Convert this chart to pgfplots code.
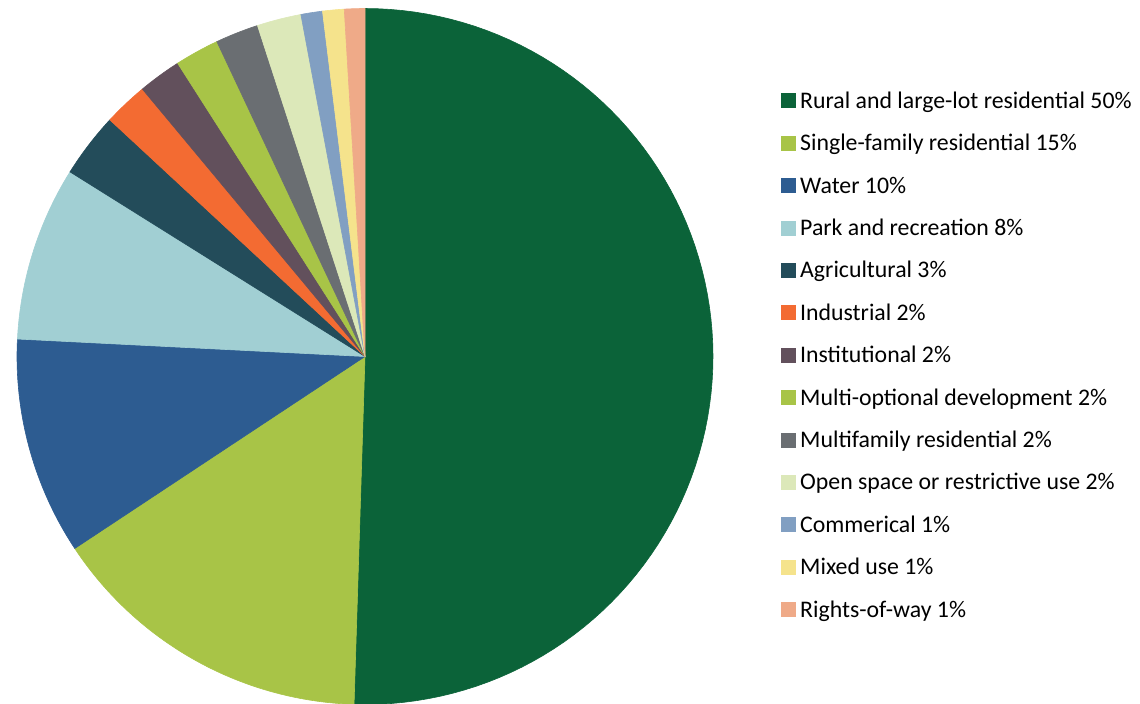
\documentclass[border=0pt]{standalone}
\usepackage{pgfplots}
\pgfplotsset{compat=1.18}
\usepackage{fontspec}
\setmainfont{Carlito}
\definecolor{cRural}{RGB}{11,99,57}
\definecolor{cSingle}{RGB}{168,196,71}
\definecolor{cWater}{RGB}{45,92,145}
\definecolor{cPark}{RGB}{161,207,211}
\definecolor{cAgri}{RGB}{35,76,90}
\definecolor{cInd}{RGB}{243,107,50}
\definecolor{cInst}{RGB}{98,80,92}
\definecolor{cMultiOpt}{RGB}{168,196,71}
\definecolor{cMultiFam}{RGB}{106,110,114}
\definecolor{cOpen}{RGB}{220,232,185}
\definecolor{cComm}{RGB}{129,159,194}
\definecolor{cMixed}{RGB}{245,227,140}
\definecolor{cRow}{RGB}{239,170,136}

% running total of percentages (clockwise from 12 o'clock)
\gdef\cum{0}
\newcommand{\slice}[3]{% #1 value (%), #2 colour, #3 legend text
  \pgfmathsetmacro{\angA}{90-3.6*(\cum+#1)}%
  \pgfmathsetmacro{\angB}{90-3.6*\cum}%
  \edef\temp{\noexpand\addplot[fill=#2, draw=#2, line width=0.3pt, domain=\angA:\angB, samples=90]}%
  \temp ({cos(x)},{sin(x)}) -- (axis cs:0,0) -- cycle;
  \addlegendentry{#3}
  \pgfmathsetmacro{\newcum}{\cum+#1}\global\let\cum\newcum
}

\begin{document}
\begin{tikzpicture}
\useasboundingbox (0,0) rectangle (570pt,351.5pt);
\begin{axis}[
  at={(182.5pt,173.25pt)}, anchor=center,
  width=348pt, height=348pt, scale only axis,
  xmin=-1, xmax=1, ymin=-1, ymax=1,
  hide axis, clip=false,
  legend cell align=left,
  legend style={at={(1.0977,0.8819)}, anchor=north west, draw=none, fill=none,
    inner sep=0pt, outer sep=0pt, row sep=11.2pt,
    font=\fontsize{11.9}{13}\selectfont,
    nodes={inner sep=0pt, text height=8.83pt, text depth=1.17pt}},
  legend image code/.code={\fill[#1] (0pt,-3.5pt) rectangle (7pt,3.5pt); \path (9.3pt,0pt);},
]
\slice{50.5}{cRural}{Rural and large-lot residential 50\%}
\slice{15.2}{cSingle}{Single-family residential 15\%}
\slice{10.1}{cWater}{Water 10\%}
\slice{8.1}{cPark}{Park and recreation 8\%}
\slice{3.0}{cAgri}{Agricultural 3\%}
\slice{2.05}{cInd}{Industrial 2\%}
\slice{2.0}{cInst}{Institutional 2\%}
\slice{2.05}{cMultiOpt}{Multi-optional development 2\%}
\slice{2.0}{cMultiFam}{Multifamily residential 2\%}
\slice{2.05}{cOpen}{Open space or restrictive use 2\%}
\slice{1.0}{cComm}{Commerical 1\%}
\slice{1.0}{cMixed}{Mixed use 1\%}
\slice{0.95}{cRow}{Rights-of-way 1\%}
\end{axis}
\end{tikzpicture}
\end{document}
